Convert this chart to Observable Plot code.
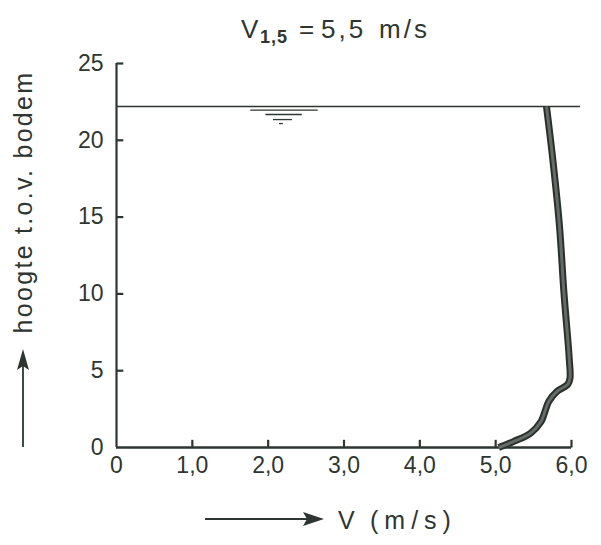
<!DOCTYPE html>
<html><head><meta charset="utf-8">
<script src="https://cdn.jsdelivr.net/npm/d3@7"></script>
<script src="https://cdn.jsdelivr.net/npm/@observablehq/plot@0.6"></script>
<style>body{margin:0;background:#fff} svg{display:block}</style>
</head><body><div id="chart"></div>
<script>
// Velocity profile (V in m/s, height above bed)
const velocity       = [5.04, 5.24, 5.46, 5.60, 5.64, 5.70, 5.81, 5.95, 5.98, 5.97, 5.90, 5.84, 5.75, 5.67];
const heightAboveBed = [0.00, 0.40, 0.93, 1.70, 2.20, 3.00, 3.66, 4.10, 4.50, 5.80, 10.1, 14.5, 18.9, 22.2];
const waterLevel = 22.2;
const waterLineEnd = 6.12;
const xTicks = [0, 1, 2, 3, 4, 5, 6];
const xTickLabels = ["0", "1,0", "2,0", "3,0", "4,0", "5,0", "6,0"];
const yTicks = [0, 5, 10, 15, 20, 25];
// water-surface symbol (stacked dashes)
const symbolLevels = [21.97, 21.68, 21.35, 21.09];
const symbolStart  = [1.77, 1.97, 2.07, 2.15];
const symbolEnd    = [2.66, 2.45, 2.32, 2.20];
const titleParts = ["V", "1,5", "=", "5,5", "m/s"];
const yLabel = "hoogte t.o.v. bodem";
const xLabelParts = ["V", "(m/s)"];

const ink = "#2d3630";
const font = "Liberation Sans";
const profile = velocity.map((v, i) => ({v, h: heightAboveBed[i]}));
const symbol = symbolLevels.map((y, i) => ({y, x1: symbolStart[i], x2: symbolEnd[i]}));
const xTickMarks = xTicks.slice(1).map(v => ({v}));
const yTickMarks = yTicks.slice(1).map(v => ({v}));

const chart = Plot.plot({
  width: 601, height: 545,
  marginLeft: 116, marginRight: 30, marginTop: 63, marginBottom: 98,
  style: {fontFamily: font, fontSize: "23px", color: ink, background: "#fff", overflow: "visible"},
  x: {domain: [0, 6]},
  y: {domain: [0, 25]},
  marks: [
    Plot.ruleY([waterLevel], {x1: 0, x2: waterLineEnd, stroke: ink, strokeWidth: 1.6, clip: false}),
    Plot.ruleY(symbol, {y: "y", x1: "x1", x2: "x2", stroke: ink, strokeWidth: 1.3}),
    Plot.ruleX([0], {y1: 0, y2: 25, stroke: ink, strokeWidth: 2.2}),
    Plot.ruleY([0], {x1: 0, x2: 6, stroke: ink, strokeWidth: 2.6}),
    // inward tick marks
    Plot.link(xTickMarks, {x1: "v", x2: "v", y1: () => 0, y2: () => 0.5, stroke: ink, strokeWidth: 2.2}),
    Plot.link(yTickMarks, {y1: "v", y2: "v", x1: () => 0, x2: () => 0.09, stroke: ink, strokeWidth: 2.2}),
    Plot.axisX(xTicks, {tickSize: 0, tickPadding: 9, fill: ink, label: null,
      tickFormat: d => xTickLabels[xTicks.indexOf(d)]}),
    Plot.axisY(yTicks, {tickSize: 0, tickPadding: 13, fill: ink, label: null}),
    Plot.line(profile, {x: "v", y: "h", curve: "catmull-rom", stroke: "#2a312c", strokeWidth: 7, strokeLinecap: "butt"}),
    Plot.line(profile, {x: "v", y: "h", curve: "catmull-rom", stroke: "#656b66", strokeWidth: 3, strokeLinecap: "butt"})
  ]
});

const svg = d3.select(chart);

// title
const t = svg.append("text").attr("y", 38).attr("text-anchor", "start")
  .attr("font-family", font).attr("font-size", 26).attr("fill", ink);
t.append("tspan").attr("x", 241).text(titleParts[0]);
t.append("tspan").attr("x", 260).attr("dy", 5).attr("font-size", 18).attr("font-weight", "bold").attr("letter-spacing", 1).text(titleParts[1]);
t.append("tspan").attr("x", 299).attr("dy", -5).text(titleParts[2]);
t.append("tspan").attr("x", 321).attr("letter-spacing", 3).text(titleParts[3]);
t.append("tspan").attr("x", 379).attr("letter-spacing", 3).text(titleParts[4]);

// y label with arrow
svg.append("text").attr("transform", "translate(32,202) rotate(-90)")
  .attr("text-anchor", "middle").attr("font-family", font).attr("font-size", 25).attr("fill", ink)
  .attr("letter-spacing", 2.3).text(yLabel);
svg.append("line").attr("x1", 23).attr("x2", 23).attr("y1", 447).attr("y2", 362)
  .attr("stroke", ink).attr("stroke-width", 1.8);
svg.append("path").attr("d", "M23,349L17,370L23,366L29,370Z").attr("fill", ink);

// x label with arrow
svg.append("line").attr("x1", 205).attr("x2", 312).attr("y1", 519).attr("y2", 519)
  .attr("stroke", ink).attr("stroke-width", 1.8);
svg.append("path").attr("d", "M324,519L303,512L307,519L303,526Z").attr("fill", ink);
const xl = svg.append("text").attr("y", 529).attr("text-anchor", "start").attr("font-family", font)
  .attr("font-size", 25).attr("fill", ink);
xl.append("tspan").attr("x", 338).text(xLabelParts[0]);
xl.append("tspan").attr("x", 370).attr("letter-spacing", 6).text(xLabelParts[1]);

document.getElementById("chart").appendChild(chart);
</script>
</body></html>
